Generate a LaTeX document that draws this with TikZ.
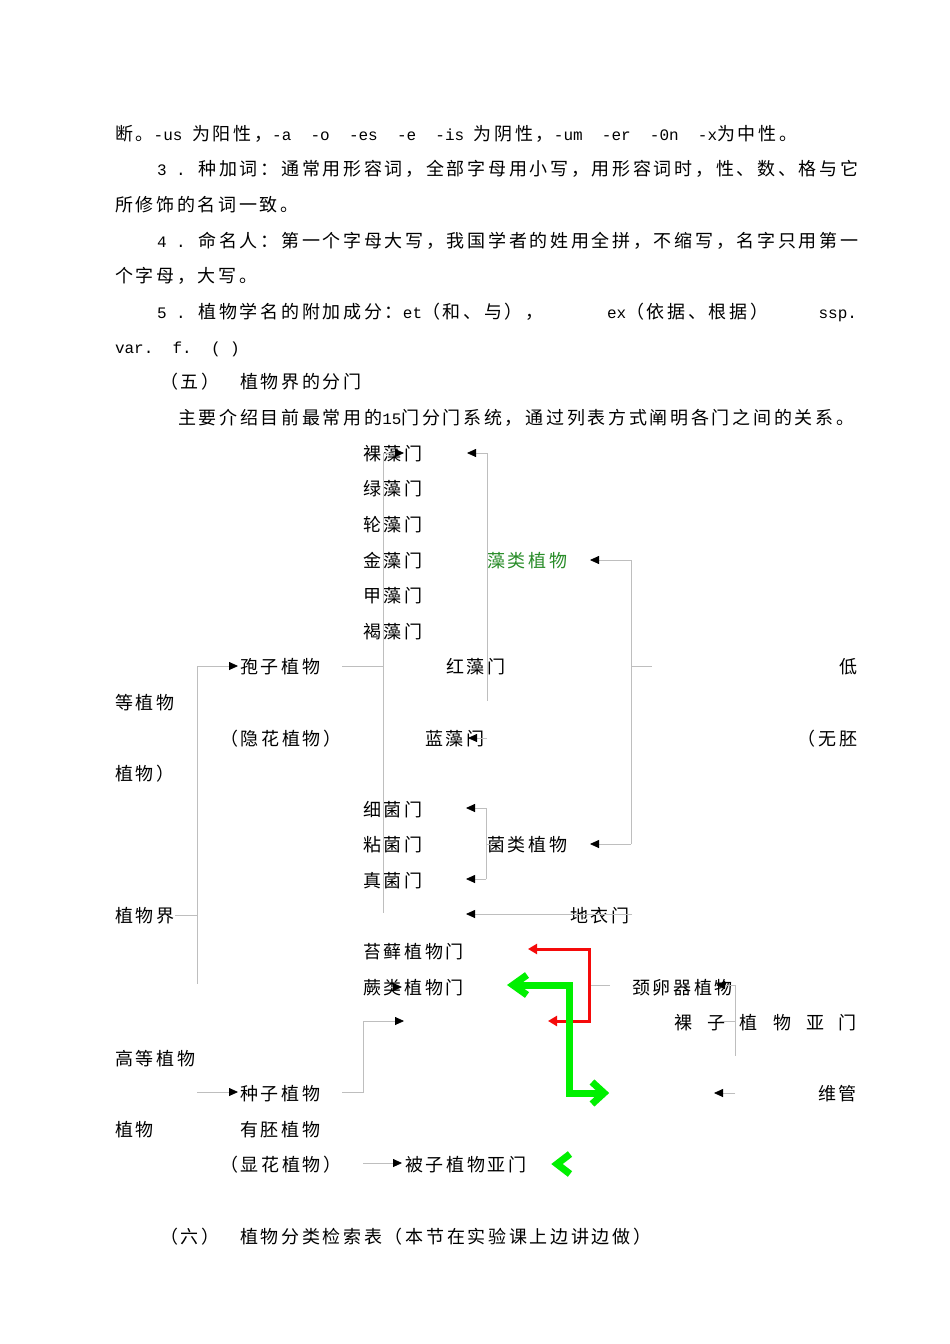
\documentclass[tikz,border=0pt]{standalone}
\usepackage{fontspec}
\setmainfont{Noto Sans CJK SC}[LetterSpace=15]
\newfontfamily\latfont{Liberation Mono}[Scale=0.889]
\newcommand\la[1]{{\latfont #1}}
\usetikzlibrary{arrows.meta}
\definecolor{lgray}{RGB}{190,190,190}
\definecolor{tgreen}{RGB}{40,140,40}
\definecolor{bgreen}{RGB}{0,240,0}
\definecolor{bred}{RGB}{245,10,10}
\newcommand\tx[4]{\node[txt] (#1) at (#2,#3+7) {#4};}
\newcommand\tr[4]{\node[txt,anchor=base east] (#1) at (#2,#3+7) {#4};}
\begin{document}
\begin{tikzpicture}[x=1pt,y=-1pt,
  txt/.style={inner sep=0pt,outer sep=0pt,anchor=base west,font=\fontsize{18}{20}\selectfont},
  ln/.style={draw=lgray,line width=0.8pt},
  arr/.style={ln,-{Triangle[length=9pt,width=8pt,color=black]}},
  redarr/.style={draw=bred,line width=3pt,line join=miter,-{Triangle[length=9pt,width=10pt,color=bred]}},
  gline/.style={draw=bgreen,line width=7pt,line join=miter},
]
\fill[white] (0,0) rectangle (950,1344);
\useasboundingbox (0,0) rectangle (950,1344);

% ---- body text ----
\tx{l1}{115}{133}{断。\la{-us }为阳性，\la{-a\ \ -o\ \ -es\ \ -e\ \ -is\ }为阴性，\la{-um\ \ -er\ \ -0n\ \ -x}为中性。}
\tx{l2}{157}{168}{\la{3 . }种加词：通常用形容词，全部字母用小写，用形容词时，性、数、格与它}
\tx{l3}{115}{204}{所修饰的名词一致。}
\tx{l4}{157}{240}{\la{4 . }命名人：第一个字母大写，我国学者的姓用全拼，不缩写，名字只用第一}
\tx{l5}{115}{275}{个字母，大写。}
\tx{l6a}{157}{311}{\la{5 . }植物学名的附加成分：\la{et}（和、与），}
\tx{l6b}{607}{311}{\la{ex}（依据、根据）}
\tr{l6c}{857}{311}{\la{ssp.}}
\tx{l7}{115}{346}{\la{var.\ \ f.\ \ (\ )}}
\tx{h5a}{160}{381}{（五）}
\tx{h5b}{240}{381}{植物界的分门}
\tx{intro}{178}{417}{主要介绍目前最常用的\la{15}门分门系统，通过列表方式阐明各门之间的关系。}

% ---- diagram labels ----
\tx{luo}{363}{453}{裸藻门}
\tx{lv}{363}{488}{绿藻门}
\tx{lun}{363}{524}{轮藻门}
\tx{jin}{363}{560}{金藻门}
\tx{jia}{363}{595}{甲藻门}
\tx{he}{363}{631}{褐藻门}
\tx{hong}{446}{666}{红藻门}
\tx{lan}{425}{738}{蓝藻门}
\tx{zaolei}{487}{560}{\color{tgreen}藻类植物}
\tx{baozi}{240}{666}{孢子植物}
\tx{yinhua}{220}{738}{（隐花植物）}
\tr{di}{857}{666}{低}
\tr{wupei}{857}{738}{（无胚}
\tx{dengzw}{115}{702}{等植物}
\tx{zwk}{115}{773}{植物）}
\tx{xi}{363}{809}{细菌门}
\tx{nian}{363}{844}{粘菌门}
\tx{zhen}{363}{880}{真菌门}
\tx{junlei}{487}{844}{菌类植物}
\tx{diyi}{570}{915}{地衣门}
\tx{zwj}{115}{915}{植物界}
\tx{taixian}{363}{951}{苔藓植物门}
\tx{jue}{363}{987}{蕨类植物门}
\tx{jingluan}{632}{987}{颈卵器植物}
\tr{luozi}{857}{1022}{裸\hspace{15pt}子\hspace{15pt}植\hspace{15pt}物\hspace{15pt}亚\hspace{15pt}门}
\tx{gaodeng}{115}{1058}{高等植物}
\tx{zhongzi}{240}{1093}{种子植物}
\tr{weiguan}{857}{1093}{维管}
\tx{zw2}{115}{1129}{植物}
\tx{youpei}{240}{1129}{有胚植物}
\tx{xianhua}{220}{1164}{（显花植物）}
\tx{beizi}{405}{1164}{被子植物亚门}
\tx{h6a}{160}{1236}{（六）}
\tx{h6b}{240}{1236}{植物分类检索表（本节在实验课上边讲边做）}

% ---- connector coordinates ----
\coordinate (a1) at (197,666);
\coordinate (a2) at (197,984);
\coordinate (a3) at (175,915);
\coordinate (a4) at (197,915);
\coordinate (b1) at (342,666);
\coordinate (b2) at (383,666);
\coordinate (b3) at (383,453);
\coordinate (b4) at (383,913);
\coordinate (c1) at (487,453);
\coordinate (c2) at (487,701);
\coordinate (c3) at (487,738);
\coordinate (d1) at (631,560);
\coordinate (d2) at (631,844);
\coordinate (d3) at (631,666);
\coordinate (d4) at (652,666);
\coordinate (e1) at (486,808);
\coordinate (e2) at (486,879);
\coordinate (e3) at (486,844);
\coordinate (e4) at (493,844);
\coordinate (f1) at (632,914);
\coordinate (g1) at (735,985);
\coordinate (g2) at (735,1056);
\coordinate (g3) at (720,1021);
\coordinate (g4) at (735,1021);
\coordinate (g5) at (735,1093);
\coordinate (h1) at (197,1092);
\coordinate (h2) at (342,1092);
\coordinate (h3) at (363,1092);
\coordinate (h4) at (363,1021);
\coordinate (i1) at (363,1163);
\coordinate (r1) at (589,949);
\coordinate (r2) at (589,1021);
\coordinate (r3) at (589,985);
\coordinate (r4) at (610,985);

% ---- gray connectors ----
\draw[ln] (a1) -- (a2);
\draw[ln] (a3) -- (a4);
\draw[arr] (a1) -- (238,666);
\draw[ln] (b1) -- (b2);
\draw[ln] (b3) -- (b4);
\draw[arr] (b3) -- (404,453);
\draw[arr] (390,987) -- (402,987);
\draw[ln] (c1) -- (c2);
\draw[arr] (c1) -- (467,453);
\draw[arr] (c3) -- (468,738);
\draw[ln] (d1) -- (d2);
\draw[arr] (d1) -- (590,560);
\draw[arr] (d2) -- (590,844);
\draw[ln] (d3) -- (d4);
\draw[ln] (e1) -- (e2);
\draw[arr] (e1) -- (466,808);
\draw[arr] (e2) -- (466,879);
\draw[ln] (e3) -- (e4);
\draw[arr] (f1) -- (466,914);
\draw[ln] (g1) -- (g2);
\draw[arr] (g1) -- (716,985);
\draw[ln] (g3) -- (g4);
\draw[arr] (g5) -- (714,1093);
\draw[arr] (h1) -- (238,1092);
\draw[ln] (h2) -- (h3) -- (h4);
\draw[arr] (h4) -- (404,1021);
\draw[arr] (i1) -- (402,1163);
\draw[ln] (r3) -- (r4);

% ---- red arrows ----
\draw[redarr] (r2) -- (r1) -- (528,949);
\draw[redarr] (r1) -- (r2) -- (548,1021);

% ---- green arrows ----
\draw[gline] (515,985) -- (569,985) -- (569,1093) -- (600,1093);
\draw[gline] (527,975) -- (513,985) -- (527,995);
\draw[gline] (592,1082) -- (604,1093) -- (592,1104);
\begin{scope}
\clip (540,1140) rectangle (574,1190);
\draw[gline] (570,1154) -- (557,1164) -- (570,1174);
\end{scope}
\end{tikzpicture}
\end{document}
